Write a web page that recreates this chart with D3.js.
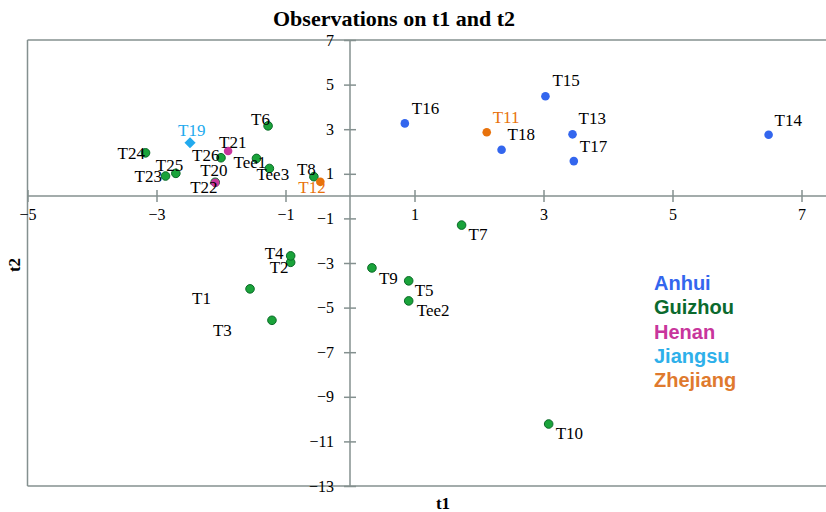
<!DOCTYPE html>
<html>
<head>
<meta charset="utf-8">
<script src="https://cdn.jsdelivr.net/npm/d3@7"></script>
<style>
    body { margin: 0; background: #fff; }
</style>
</head>
<body>
<svg id="chart" width="826" height="512"></svg>
<script>
var names = ["T1", "T2", "T3", "T4", "T5", "T6", "T7", "T8", "T9", "T10",
    "T11", "T12", "T13", "T14", "T15", "T16", "T17", "T18", "T19", "T20",
    "T22", "T21", "T23", "T24", "T25", "T26", "Tee1", "Tee2", "Tee3"];
var t1 = [-1.55, -0.92, -1.21, -0.92, 0.91, -1.27, 1.73, -0.56, 0.34, 3.08,
    2.12, -0.46, 3.45, 6.49, 3.03, 0.85, 3.47, 2.35, -2.48, -2.09,
    -2.09, -1.89, -2.86, -3.17, -2.70, -2.00, -1.45, 0.91, -1.25];
var t2 = [-4.16, -2.97, -5.57, -2.68, -3.80, 3.15, -1.30, 0.87, -3.22, -10.22,
    2.86, 0.64, 2.77, 2.75, 4.48, 3.26, 1.57, 2.08, 2.39, 0.62,
    0.60, 2.02, 0.90, 1.94, 1.02, 1.72, 1.69, -4.70, 1.24];
var province = ["Guizhou", "Guizhou", "Guizhou", "Guizhou", "Guizhou", "Guizhou", "Guizhou", "Guizhou", "Guizhou", "Guizhou",
    "Zhejiang", "Zhejiang", "Anhui", "Anhui", "Anhui", "Anhui", "Anhui", "Anhui", "Jiangsu", "Guizhou",
    "Henan", "Henan", "Guizhou", "Guizhou", "Guizhou", "Guizhou", "Guizhou", "Guizhou", "Guizhou"];
var groups = ["Anhui", "Guizhou", "Henan", "Jiangsu", "Zhejiang"];
var xTicks = [-5, -3, -1, 1, 3, 5, 7];
var yTicks = [7, 5, 3, 1, -1, -3, -5, -7, -9, -11, -13];

// label placement relative to each point (dx, dy to baseline)
var labelOffset = {
    T1: [-58, 15], T2: [-21, 11], T3: [-59, 16], T4: [-26, 3], T5: [6, 15],
    T6: [-17, -1], T7: [7, 15], T8: [-17, -2], T9: [7, 16], T10: [7, 15],
    T11: [6, -9], T12: [-22, 11], T13: [6, -10], T14: [6, -9], T15: [7, -10],
    T16: [7, -9], T17: [6, -9], T18: [6, -10], T19: [-12, -7], T20: [-15, -6],
    T22: [-25, 10], T21: [-9, -3], T23: [-31, 6], T24: [-28, 6], T25: [-20, -2],
    T26: [-29, 3], Tee1: [-23, 10], Tee2: [8, 15], Tee3: [-13, 12]
};

var serif = "'Liberation Serif', 'Times New Roman', 'DejaVu Serif', serif";
var fill = { Anhui: "#3366ee", Guizhou: "#1aa33a", Henan: "#c8359c", Jiangsu: "#22aaee", Zhejiang: "#e8720c" };
var legendColor = { Anhui: "#3366ee", Guizhou: "#0b6a2e", Henan: "#c8359c", Jiangsu: "#2eb0ea", Zhejiang: "#df7a2e" };
var axisColor = "#84908f";

var svg = d3.select("#chart").style("font-family", serif);
var x = d3.scaleLinear().domain([-5, 7.4]).range([27.5, 827.3]);
var y = d3.scaleLinear().domain([-13, 7]).range([486, 40]);

// frame
svg.append("line").attr("x1", x(-5)).attr("x2", 826).attr("y1", y(7)).attr("y2", y(7))
    .attr("stroke", axisColor).attr("stroke-width", 1.5);
svg.append("line").attr("x1", x(-5)).attr("x2", 826).attr("y1", y(-13)).attr("y2", y(-13))
    .attr("stroke", axisColor).attr("stroke-width", 1.5);
svg.append("line").attr("x1", x(-5)).attr("x2", x(-5)).attr("y1", y(7)).attr("y2", y(-13))
    .attr("stroke", axisColor).attr("stroke-width", 1.5);

// axes crossing at origin
var xAxis = d3.axisBottom(x).tickValues(xTicks).tickSize(0).tickPadding(14);
var gx = svg.append("g").attr("transform", "translate(0," + y(0) + ")").call(xAxis)
    .attr("font-family", null).attr("font-size", null);
gx.select(".domain").remove();
gx.append("line").attr("x1", x(-5)).attr("x2", 826).attr("stroke", axisColor).attr("stroke-width", 1.5);
gx.selectAll(".tick").append("line").attr("y1", -6).attr("y2", 6).attr("stroke", axisColor).attr("stroke-width", 1.5);
gx.selectAll(".tick text").attr("fill", "#000").style("font-size", "16px")
    .style("font-family", serif).attr("dy", "0.6em");

var yAxis = d3.axisLeft(y).tickValues(yTicks).tickSize(0).tickPadding(16);
var gy = svg.append("g").attr("transform", "translate(" + x(0) + ",0)").call(yAxis)
    .attr("font-family", null).attr("font-size", null);
gy.select(".domain").remove();
gy.append("line").attr("y1", y(7)).attr("y2", y(-13)).attr("stroke", axisColor).attr("stroke-width", 1.5);
gy.selectAll(".tick").append("line").attr("x1", -6).attr("x2", 6).attr("stroke", axisColor).attr("stroke-width", 1.5);
gy.selectAll(".tick text").attr("fill", "#000").style("font-size", "16px")
    .style("font-family", serif);

// points
var pts = names.map(function (n, i) {
    return { name: n, t1: t1[i], t2: t2[i], group: province[i] };
});

pts.forEach(function (p) {
    if (p.group === "Jiangsu") {
        svg.append("path")
            .attr("d", d3.symbol().type(d3.symbolSquare).size(62)())
            .attr("transform", "translate(" + x(p.t1) + "," + y(p.t2) + ") rotate(45)")
            .attr("fill", fill[p.group]);
    } else {
        svg.append("circle")
            .attr("cx", x(p.t1)).attr("cy", y(p.t2)).attr("r", 4.3)
            .attr("fill", fill[p.group])
            .attr("stroke", p.group === "Guizhou" ? "#0b6a28" : "none")
            .attr("stroke-width", 1);
    }
});

pts.forEach(function (p) {
    var off = labelOffset[p.name];
    var c = "#000";
    if (p.group === "Jiangsu" || p.group === "Zhejiang") c = fill[p.group];
    svg.append("text")
        .attr("x", x(p.t1) + off[0]).attr("y", y(p.t2) + off[1])
        .attr("fill", c).style("font-size", "17px").style("font-family", serif)
        .text(p.name);
});

// legend
groups.forEach(function (g, i) {
    svg.append("text")
        .attr("x", 654).attr("y", 290 + i * 24.3)
        .attr("fill", legendColor[g])
        .style("font-family", "'Liberation Sans', Arial, sans-serif")
        .style("font-weight", "bold").style("font-size", "20px")
        .text(g);
});

// titles
svg.append("text").attr("x", 394).attr("y", 26).attr("text-anchor", "middle")
    .style("font-family", serif)
    .style("font-weight", "bold").style("font-size", "22px").text("Observations on t1 and t2");
svg.append("text").attr("x", 443).attr("y", 509).attr("text-anchor", "middle")
    .style("font-family", serif)
    .style("font-weight", "bold").style("font-size", "17px").text("t1");
svg.append("text").attr("transform", "translate(20,265) rotate(-90)").attr("text-anchor", "middle")
    .style("font-family", serif)
    .style("font-weight", "bold").style("font-size", "17px").text("t2");
</script>
</body>
</html>
